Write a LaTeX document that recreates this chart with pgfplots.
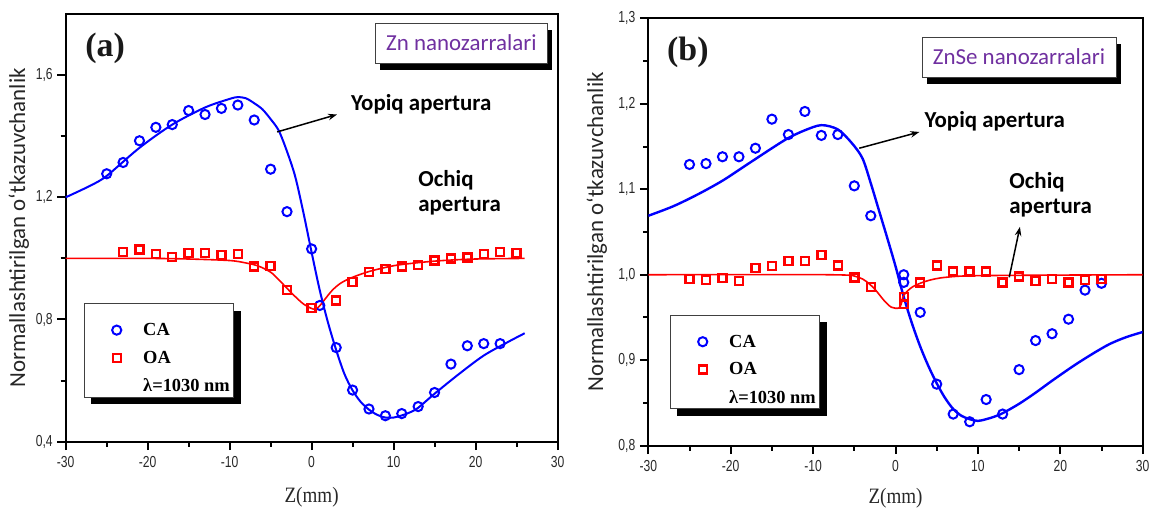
\documentclass[border=0pt]{standalone}
\usepackage{fontspec}
\setmainfont{Liberation Serif}
\usepackage{pgfplots}
\pgfplotsset{compat=1.18}
\usetikzlibrary{arrows.meta,shadows}
\newfontfamily\tickfont[FakeStretch=0.76]{Liberation Sans}
\newfontfamily\calib{Carlito}
\newfontfamily\timesf{Liberation Serif}
\newfontfamily\timesc[FakeStretch=0.87]{Liberation Serif}
\definecolor{myblue}{RGB}{0,0,255}
\definecolor{myred}{RGB}{255,0,0}
\definecolor{purp}{RGB}{112,48,160}
\definecolor{txtgray}{RGB}{40,40,40}

\tikzset{
    lbl/.style={font=\calib\bfseries\fontsize{23}{25}\selectfont, inner sep=0pt, anchor=west, align=left},
    arr/.style={line width=1.5bp, -{Stealth[length=9bp,width=6.5bp]}},
    namebox/.style={draw=black!75, line width=0.8bp, fill=white, minimum height=40bp, inner sep=0pt,
      drop shadow={shadow xshift=5bp, shadow yshift=-7bp, fill=black, opacity=1},
      font=\calib\fontsize{23}{24}\selectfont, text=purp},
    panel/.style={font=\timesf\bfseries\fontsize{34}{36}\selectfont, inner sep=0pt, text=black!90},
}

\pgfplotsset{
  myimg/.style={legend image code/.code={\path (0bp,0bp) (54bp,0bp); \draw[##1] plot coordinates {(30bp,0bp)};}},
  base/.style={
    scale only axis,
    axis line style={line width=2bp, black},
    tick align=outside,
    tick pos=left,
    major tick length=8.5bp, minor tick length=5bp,
    every tick/.style={line width=2bp, black},
    every minor tick/.style={line width=2bp, black},
    tick label style={font=\tickfont\fontsize{16}{17}\selectfont, text=txtgray},
    xticklabel style={yshift=-3bp},
    yticklabel style={xshift=-1bp},
    xmin=-30, xmax=30, xtick={-30,-20,-10,0,10,20,30},
    xticklabels={-30,-20,-10,0,10,20,30},
    minor x tick num=1,
    minor y tick num=1,
    xlabel={Z(mm)},
    xlabel style={font=\timesc\fontsize{22}{23}\selectfont, text=txtgray, at={(axis description cs:0.5,0)}, anchor=center},
    ylabel={Normallashtirilgan o‘tkazuvchanlik},
    ylabel style={font=\calib\fontsize{23}{24}\selectfont, text=black!85, at={(axis description cs:0,0.5)}, anchor=base},
    legend cell align=left,
    legend style={anchor=north west, draw=black!75, line width=1bp, fill=white,
      drop shadow={shadow xshift=7bp, shadow yshift=-7bp, fill=black, opacity=1},
      font=\timesf\bfseries\fontsize{18.5}{20}\selectfont, inner xsep=2bp, inner ysep=2bp, row sep=10bp},
    ca/.style={only marks, mark=o, color=myblue, mark size=4.6bp, mark options={line width=2bp}, myimg},
    oa/.style={only marks, mark=square, color=myred, mark size=4bp, mark options={line width=2.4bp}, myimg},
    fitb/.style={no marks, color=myblue, line width=2bp, smooth, tension=0.5, forget plot},
    fitr/.style={no marks, color=myred, line width=1.6bp, smooth, tension=0.5, forget plot},
  }
}

\begin{document}
\begin{tikzpicture}
\useasboundingbox (0bp,0bp) rectangle (1153bp,510bp);

% ---------------- panel (a) ----------------
\begin{axis}[base,
  at={(65.7bp,68.3bp)}, anchor=south west,
  width=491.8bp, height=427.7bp,
  ymin=0.4, ymax=1.8,
  ytick={0.4,0.8,1.2,1.6}, yticklabels={{0,4},{0,8},{1,2},{1,6}},
  xlabel style={yshift=-55.5bp},
  ylabel style={yshift=40.7bp},
  legend style={at={(axis cs:-27.8,0.853)}},
]
\addlegendimage{empty legend}
\addlegendentry{}
\addplot[fitb] table {
-30 1.200
-27 1.238
-25 1.270
-21 1.362
-17 1.438
-13 1.494
-10 1.522
-9 1.528
-8 1.524
-7 1.508
-6 1.488
-5 1.456
-4 1.418
-3 1.350
-2 1.268
-1 1.150
0 1.020
1 0.895
2 0.790
3 0.700
4 0.622
5 0.568
6 0.530
7 0.505
8 0.488
9 0.479
10 0.479
11 0.486
12 0.496
13 0.511
15 0.557
18 0.622
21 0.682
24 0.727
26 0.755
};
\addplot[fitr] table {
-30 1.000
-20 1.000
-15 0.998
-10 0.993
-8 0.985
-6.5 0.975
-5 0.955
-4 0.930
-3 0.902
-2 0.875
-1 0.851
0 0.836
0.5 0.834
1 0.845
1.5 0.862
2.5 0.895
3.5 0.918
4.8 0.936
7 0.957
10 0.976
13 0.986
16 0.993
20 0.998
26 1.000
};
\addplot[ca] table {
-25 1.277
-23 1.314
-21 1.385
-19 1.429
-17 1.438
-15 1.484
-13 1.471
-11 1.491
-9 1.502
-7 1.453
-5 1.292
-3 1.153
0 1.031
1 0.846
3 0.708
5 0.569
7 0.507
9 0.485
11 0.492
13 0.515
15 0.561
17 0.654
19 0.714
21 0.721
23 0.721
};
\addlegendentry{CA}
\addplot[oa] table {
-23 1.021
-21 1.029
-19 1.015
-17 1.004
-15 1.017
-13 1.018
-11 1.011
-9 1.014
-7 0.973
-5 0.975
-3 0.897
0 0.837
3 0.862
5 0.922
7 0.955
9 0.966
11 0.974
13 0.979
15 0.993
17 1.000
19 1.003
21 1.014
23 1.021
25 1.017
};
\addlegendentry{OA}
\addlegendimage{empty legend}
\addlegendentry{λ=1030 nm}

\node[panel] at (axis cs:-25.2,1.689) {(a)};
\node[namebox, minimum width=172bp] at (axis cs:18.27,1.705) {Zn nanozarralari};
\draw[arr] (axis cs:-4.2,1.414) -- (axis cs:3.1,1.471);
\node[lbl] at (axis cs:4.8,1.505) {Yopiq apertura};
\node[lbl] at (axis cs:13.0,1.215) {Ochiq\\apertura};
\end{axis}

% ---------------- panel (b) ----------------
\begin{axis}[base,
  at={(648.3bp,64.3bp)}, anchor=south west,
  width=494.4bp, height=427.4bp,
  ymin=0.8, ymax=1.3,
  ytick={0.8,0.9,1.0,1.1,1.2,1.3}, yticklabels={{0,8},{0,9},{1,0},{1,1},{1,2},{1,3}},
  xlabel style={yshift=-52.3bp},
  ylabel style={yshift=45.3bp},
  legend style={at={(axis cs:-27.4,0.953)}},
]
\addlegendimage{empty legend}
\addlegendentry{}
\addplot[fitb, line width=2.4bp] table {
-30 1.069
-27 1.080
-24 1.094
-21 1.110
-18 1.129
-15 1.148
-13 1.160
-11 1.169
-9 1.175
-7 1.170
-5.3 1.154
-4 1.136
-3 1.107
-2 1.075
-1 1.043
0 1.010
1 0.974
2 0.943
3 0.916
4 0.893
5 0.873
6 0.856
7 0.843
8 0.835
9 0.831
10 0.829
11 0.831
12 0.834
13 0.838
15 0.849
17 0.862
19 0.876
21.7 0.894
24 0.908
26 0.919
28 0.927
30 0.933
};
\addplot[fitr] table {
-30 1.000
-8 1.000
-4.5 0.997
-2.8 0.986
-1.4 0.970
-0.5 0.962
0.4 0.961
0.7 0.966
1.0 0.976
2.1 0.986
3.9 0.993
6.1 0.997
10.6 0.999
30 1.000
};
\addplot[ca] table {
-25 1.129
-23 1.130
-21 1.138
-19 1.138
-17 1.148
-15 1.182
-13 1.164
-11 1.191
-9 1.163
-7 1.164
-5 1.104
-3 1.069
1 1.000
1 0.991
3 0.956
5 0.872
7 0.837
9 0.828
11 0.854
13 0.837
15 0.889
17 0.923
19 0.931
21 0.948
23 0.982
25 0.990
};
\addlegendentry{CA}
\addplot[oa] table {
-25 0.995
-23 0.994
-21 0.996
-19 0.993
-17 1.008
-15 1.010
-13 1.016
-11 1.016
-9 1.023
-7 1.011
-5 0.997
-3 0.986
1 0.974
1 0.966
3 0.991
5 1.011
7 1.004
9 1.004
11 1.004
13 0.991
15 0.998
17 0.993
19 0.995
21 0.991
23 0.994
25 0.995
};
\addlegendentry{OA}
\addlegendimage{empty legend}
\addlegendentry{λ=1030 nm}

\node[panel] at (axis cs:-25.2,1.2606) {(b)};
\node[namebox, minimum width=194bp] at (axis cs:14.99,1.2547) {ZnSe nanozarralari};
\draw[arr] (axis cs:-4.4,1.148) -- (axis cs:2.9,1.167);
\node[lbl] at (axis cs:3.5,1.179) {Yopiq apertura};
\node[lbl] at (axis cs:13.8,1.094) {Ochiq\\apertura};
\draw[arr] (axis cs:13.8,0.997) -- (axis cs:15.1,1.056);
\end{axis}
\end{tikzpicture}
\end{document}
